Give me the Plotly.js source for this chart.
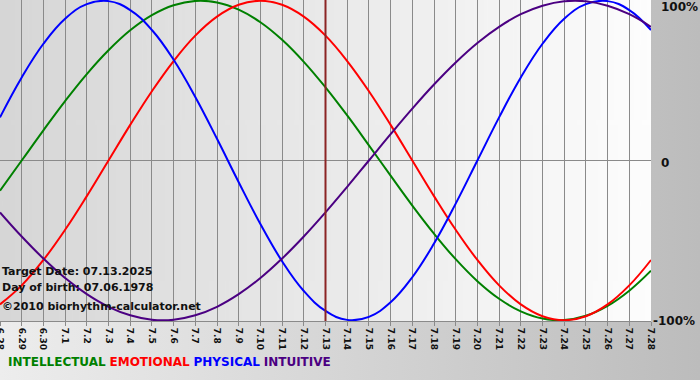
<!DOCTYPE html>
<html>
<head>
<meta charset="utf-8">
<script src="https://cdn.plot.ly/plotly-3.0.1.min.js"></script>
<style>
  html, body { margin: 0; padding: 0; }
  #chart { width: 700px; height: 380px; background: linear-gradient(to right, #ededed, #bcbcbc); }
</style>
</head>
<body>
<div id="chart"></div>
<script>
// Day labels (x axis)
const dates = ['6.28','6.29','6.30','7.1','7.2','7.3','7.4','7.5','7.6','7.7','7.8','7.9','7.10','7.11','7.12',
  '7.13','7.14','7.15','7.16','7.17','7.18','7.19','7.20','7.21','7.22','7.23','7.24','7.25','7.26','7.27','7.28'];

// Series values (fraction of 100%)
const physical = [0.270,0.520,0.731,0.888,0.979,0.998,0.942,0.817,0.631,0.398,0.136,-0.136,-0.398,-0.631,-0.817,-0.942,
  -0.998,-0.979,-0.888,-0.731,-0.520,-0.270,0.000,0.270,0.520,0.731,0.888,0.979,0.998,0.942,0.817];
const emotional = [-0.901,-0.782,-0.623,-0.434,-0.223,0.000,0.223,0.434,0.623,0.782,0.901,0.975,1.000,0.975,0.901,0.782,
  0.623,0.434,0.223,0.000,-0.223,-0.434,-0.623,-0.782,-0.901,-0.975,-1.000,-0.975,-0.901,-0.782,-0.623];
const intellectual = [-0.189,0.000,0.189,0.372,0.541,0.690,0.815,0.910,0.972,0.999,0.990,0.945,0.866,0.756,0.618,0.458,
  0.282,0.095,-0.095,-0.282,-0.458,-0.618,-0.756,-0.866,-0.945,-0.990,-0.999,-0.972,-0.910,-0.815,-0.690];
const intuitive = [-0.325,-0.476,-0.614,-0.736,-0.837,-0.916,-0.969,-0.997,-0.997,-0.969,-0.916,-0.837,-0.736,-0.614,-0.476,
  -0.325,-0.165,0.000,0.165,0.325,0.476,0.614,0.736,0.837,0.916,0.969,0.997,0.997,0.969,0.916,0.837];

const targetDay = '7.13';
const yTickVals = [1, 0, -1];
const yTickText = ['100%', '0', '-100%'];
const infoLines = ['Target Date: 07.13.2025', 'Day of birth: 07.06.1978', '\u00a92010 biorhythm-calculator.net'];
const legendNames = ['INTELLECTUAL', 'EMOTIONAL', 'PHYSICAL', 'INTUITIVE'];
const legendColors = ['#008000', '#ff0000', '#0000ff', '#4b0082'];

// gradient for plot area
const cv = document.createElement('canvas');
cv.width = 400; cv.height = 4;
const ctx = cv.getContext('2d');
const g = ctx.createLinearGradient(0, 0, 400, 0);
g.addColorStop(0, '#d6d6d6');
g.addColorStop(1, '#fdfdfd');
ctx.fillStyle = g; ctx.fillRect(0, 0, 400, 4);
const bgImg = cv.toDataURL('image/png');

const seriesList = [intellectual, emotional, physical, intuitive];
const traces = seriesList.map((ys, k) => ({
  x: dates, y: ys, type: 'scatter', mode: 'lines',
  line: { color: legendColors[k], width: 2, shape: 'spline', smoothing: 1.2 },
  hoverinfo: 'skip', showlegend: false
}));

const tIdx = dates.indexOf(targetDay);
const font = 'DejaVu Sans, Verdana, sans-serif';

const annotations = [];
yTickVals.forEach((v, k) => {
  annotations.push({
    xref: 'paper', yref: 'y', x: 1, y: v, text: '<b>' + yTickText[k] + '</b>',
    showarrow: false, xanchor: 'left', yanchor: 'middle',
    xshift: v === -1 ? 0 : 8, yshift: v === 1 ? -6 : (v === -1 ? -1 : -2),
    font: { family: font, size: 12, color: '#111' }
  });
});
infoLines.forEach((t, k) => {
  annotations.push({
    xref: 'paper', yref: 'paper', x: 0, y: 0, text: '<b>' + t + '</b>',
    showarrow: false, xanchor: 'left', yanchor: 'middle',
    xshift: 0, yshift: [50, 34, 15][k],
    font: { family: font, size: 11, color: '#111' }
  });
});
annotations.push({
  xref: 'paper', yref: 'paper', x: 0, y: 0,
  text: legendNames.map((n, k) => '<span style="color:' + legendColors[k] + '"><b>' + n + '</b></span>').join(' '),
  showarrow: false, xanchor: 'left', yanchor: 'middle', xshift: 6, yshift: -41,
  font: { family: font, size: 12 }
});

const layout = {
  width: 700, height: 380,
  margin: { l: 0, r: 49, t: 0, b: 59, pad: 0 },
  paper_bgcolor: 'rgba(0,0,0,0)',
  plot_bgcolor: 'rgba(0,0,0,0)',
  images: [{ source: bgImg, xref: 'paper', yref: 'paper', x: 0, y: 1, sizex: 1, sizey: 1,
    sizing: 'stretch', xanchor: 'left', yanchor: 'top', layer: 'below' }],
  xaxis: {
    type: 'category', range: [0, dates.length - 1], fixedrange: true,
    showgrid: true, gridcolor: '#8a8a8a', gridwidth: 1,
    showline: true, linecolor: '#8a8a8a', linewidth: 1,
    ticks: 'outside', ticklen: 4, tickcolor: '#8a8a8a',
    tickangle: 90, tickfont: { family: font, size: 9, color: '#111', weight: 'bold' },
    zeroline: false
  },
  yaxis: {
    range: [-1.005, 1.005], fixedrange: true,
    tickvals: [1, 0, -1], showticklabels: false,
    showgrid: true, gridcolor: '#8a8a8a', gridwidth: 1,
    zeroline: false, showline: false
  },
  shapes: [{
    type: 'line', xref: 'x', yref: 'paper', x0: tIdx, x1: tIdx, y0: 0, y1: 1,
    line: { color: '#8b2424', width: 2 }
  }],
  annotations: annotations
};

Plotly.newPlot('chart', traces, layout, { displayModeBar: false, staticPlot: true });
</script>
</body>
</html>
